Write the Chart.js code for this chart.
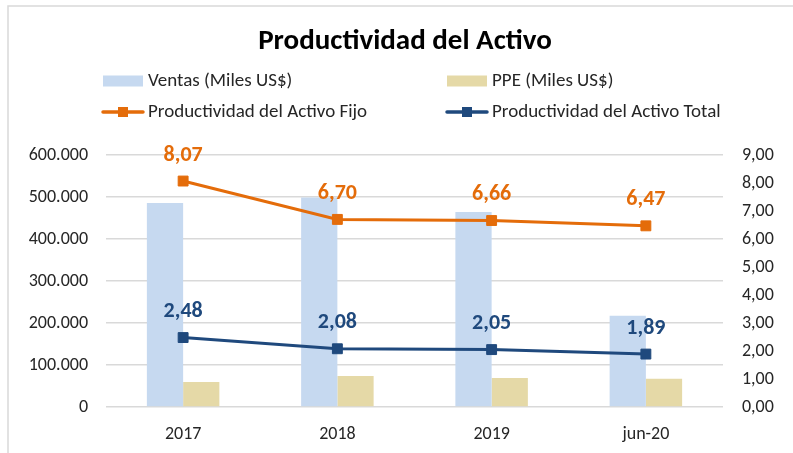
<!DOCTYPE html>
<html>
<head>
<meta charset="utf-8">
<script src="https://cdn.jsdelivr.net/npm/chart.js@4.4.0/dist/chart.umd.min.js"></script>
<style>
  html, body { margin: 0; padding: 0; background: #fff; }
  #wrap { width: 793px; height: 453px; }
</style>
</head>
<body>
<div id="wrap"><canvas id="grafica" width="793" height="453"></canvas></div>
<script>
/********** Datos *******************/
const categorias = ['2017', '2018', '2019', 'jun-20'];
const ventas = [486000, 499000, 464000, 217000];
const ppe = [59500, 74000, 69000, 67000];
const prodActivoFijo = [8.07, 6.70, 6.66, 6.47];
const prodActivoTotal = [2.48, 2.08, 2.05, 1.89];

const titulo = 'Productividad del Activo';
const FUENTE = 'Carlito, Calibri, Lato, sans-serif';

const NARANJA = '#E46C0A';
const AZUL = '#1F497D';
const CELESTE = '#C6D9F0';
const BEIGE = '#E5D9A7';
const GRIS = '#D9D9D9';

const miles = (v) => v.toString().replace(/\B(?=(\d{3})+(?!\d))/g, '.');
const decimal = (v) => v.toFixed(2).replace('.', ',');

/********** Marco, titulo y leyenda *******************/
const marco = {
  id: 'marco',
  beforeDraw(chart) {
    const ctx = chart.ctx;
    ctx.save();
    ctx.fillStyle = '#fff';
    ctx.fillRect(0, 0, chart.width, chart.height);
    ctx.strokeStyle = GRIS;
    ctx.lineWidth = 1.5;
    ctx.beginPath();
    ctx.moveTo(8, chart.height);
    ctx.lineTo(8, 6);
    ctx.lineTo(chart.width, 6);
    ctx.stroke();
    ctx.restore();
  },
  afterDraw(chart) {
    const ctx = chart.ctx;
    ctx.save();
    ctx.fillStyle = '#000';
    ctx.font = 'bold 29px ' + FUENTE;
    ctx.textAlign = 'center';
    ctx.textBaseline = 'middle';
    ctx.fillText(titulo, 405, 42);

    const items = [
      { texto: chart.data.datasets[2].label, tipo: 'bar', color: CELESTE, x: 103, y: 81 },
      { texto: chart.data.datasets[3].label, tipo: 'bar', color: BEIGE, x: 447, y: 81 },
      { texto: chart.data.datasets[0].label, tipo: 'line', color: NARANJA, x: 103, y: 112 },
      { texto: chart.data.datasets[1].label, tipo: 'line', color: AZUL, x: 447, y: 112 }
    ];
    ctx.font = '19px ' + FUENTE;
    ctx.textAlign = 'left';
    items.forEach((it) => {
      if (it.tipo === 'bar') {
        ctx.fillStyle = it.color;
        ctx.fillRect(it.x, it.y - 5.5, 40, 11);
      } else {
        ctx.strokeStyle = it.color;
        ctx.lineWidth = 3.5;
        ctx.lineCap = 'round';
        ctx.beginPath();
        ctx.moveTo(it.x, it.y);
        ctx.lineTo(it.x + 40, it.y);
        ctx.stroke();
        ctx.fillStyle = it.color;
        ctx.fillRect(it.x + 15, it.y - 5, 10, 10);
      }
      ctx.fillStyle = '#262626';
      ctx.fillText(it.texto, it.x + 45, it.y);
    });
    ctx.restore();
  }
};

/********** Etiquetas de los puntos *******************/
const etiquetas = {
  id: 'etiquetas',
  afterDatasetsDraw(chart) {
    const ctx = chart.ctx;
    ctx.save();
    ctx.font = 'bold 22px ' + FUENTE;
    ctx.textAlign = 'center';
    ctx.textBaseline = 'middle';
    chart.data.datasets.forEach((ds, i) => {
      if (ds.type !== 'line') return;
      const meta = chart.getDatasetMeta(i);
      ctx.fillStyle = ds.borderColor;
      meta.data.forEach((p, j) => {
        ctx.fillText(decimal(ds.data[j]), p.x, p.y - 26);
      });
    });
    ctx.restore();
  }
};

/********** Grafica *******************/
const ctx = document.getElementById('grafica');
new Chart(ctx, {
  data: {
    labels: categorias,
    datasets: [
      {
        type: 'line',
        label: 'Productividad del Activo Fijo',
        data: prodActivoFijo,
        yAxisID: 'y1',
        borderColor: NARANJA,
        backgroundColor: NARANJA,
        borderWidth: 3,
        pointStyle: 'rect',
        pointRadius: 7,
        pointBorderWidth: 1,
        order: 0
      },
      {
        type: 'line',
        label: 'Productividad del Activo Total',
        data: prodActivoTotal,
        yAxisID: 'y1',
        borderColor: AZUL,
        backgroundColor: AZUL,
        borderWidth: 3,
        pointStyle: 'rect',
        pointRadius: 7,
        pointBorderWidth: 1,
        order: 0
      },
      {
        type: 'bar',
        label: 'Ventas (Miles US$)',
        data: ventas,
        yAxisID: 'y',
        backgroundColor: CELESTE,
        categoryPercentage: 0.47,
        barPercentage: 1,
        order: 1
      },
      {
        type: 'bar',
        label: 'PPE (Miles US$)',
        data: ppe,
        yAxisID: 'y',
        backgroundColor: BEIGE,
        categoryPercentage: 0.47,
        barPercentage: 1,
        order: 1
      }
    ]
  },
  options: {
    responsive: false,
    animation: false,
    layout: { padding: { top: 155, left: 0, right: 0, bottom: 0 } },
    plugins: {
      legend: { display: false },
      title: { display: false },
      tooltip: { enabled: false }
    },
    scales: {
      x: {
        grid: { display: false, drawTicks: false },
        border: { display: false },
        ticks: { color: '#262626', font: { family: FUENTE, size: 18 }, padding: 17 },
        afterFit: (s) => { s.height = 46; }
      },
      y: {
        position: 'left',
        min: 0,
        max: 600000,
        ticks: {
          stepSize: 100000,
          color: '#262626',
          font: { family: FUENTE, size: 18 },
          padding: 18,
          callback: (v) => miles(v)
        },
        grid: { color: GRIS, lineWidth: 1.5, drawTicks: false },
        border: { display: false },
        afterFit: (s) => { s.width = 106; }
      },
      y1: {
        position: 'right',
        min: 0,
        max: 9,
        ticks: {
          stepSize: 1,
          color: '#262626',
          font: { family: FUENTE, size: 18 },
          padding: 19,
          callback: (v) => decimal(v)
        },
        grid: { drawOnChartArea: false, drawTicks: false },
        border: { display: false },
        afterFit: (s) => { s.width = 70; }
      }
    }
  },
  plugins: [marco, etiquetas]
});
</script>
</body>
</html>
